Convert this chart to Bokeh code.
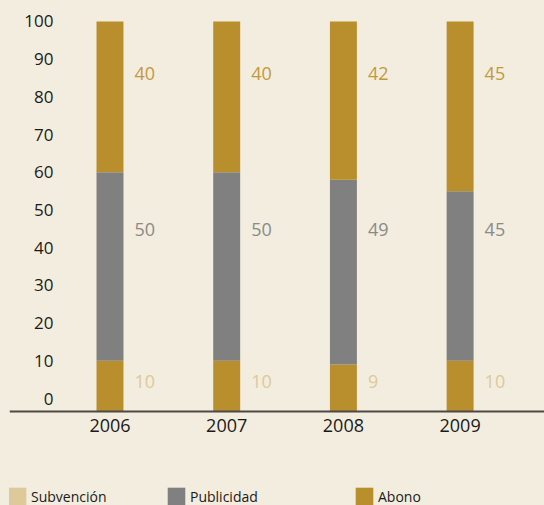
from bokeh.plotting import figure
from bokeh.models import Range1d, ColumnDataSource, Legend, LegendItem, FixedTicker
from bokeh.core.properties import value
from bokeh.embed import file_html
from bokeh.resources import INLINE

# ---- data ----
years = ["2006", "2007", "2008", "2009"]
subvencion = [10, 10, 9, 10]
publicidad = [50, 50, 49, 45]
abono = [40, 40, 42, 45]
y_ticks = [0, 10, 20, 30, 40, 50, 60, 70, 80, 90, 100]
series_names = ["Subvención", "Publicidad", "Abono"]

# ---- style ----
BG = "#f3eddf"
GOLD = "#b88f2c"
GRAY = "#808080"
TAN = "#ddc99a"
GOLD_TXT = "#c29a3b"
GRAY_TXT = "#8a8a8a"
DARK = "#1a1a1a"
AXIS = "#4d4944"
FONT = "Open Sans"

idx = list(range(len(years)))
baseline = -3.45             # axis line position (value units)
label_y = [4.5, 44.8, 86.2]  # fixed label heights per series

p = figure(width=544, height=505,
           x_range=Range1d(-0.861, 3.723), y_range=Range1d(-28.38, 105.57),
           output_backend="svg", toolbar_location=None,
           min_border_left=9, min_border_right=0, min_border_top=0, min_border_bottom=0,
           background_fill_color=BG, border_fill_color=BG, outline_line_color=None)
p.grid.visible = False

b0 = [baseline] * len(idx)
t0 = subvencion
t1 = [a + b for a, b in zip(subvencion, publicidad)]
t2 = [a + b for a, b in zip(t1, abono)]

src = ColumnDataSource(dict(x=idx, b0=b0, t0=t0, t1=t1, t2=t2))
W = 0.231
r_sub = p.vbar(x="x", bottom="b0", top="t0", width=W, source=src, fill_color=GOLD, line_color=None)
r_pub = p.vbar(x="x", bottom="t0", top="t1", width=W, source=src, fill_color=GRAY, line_color=None)
r_abo = p.vbar(x="x", bottom="t1", top="t2", width=W, source=src, fill_color=GOLD, line_color=None)
# legend swatch for Subvención (zero width, not visible in the plot)
r_leg_sub = p.vbar(x="x", bottom="b0", top="t0", width=0, source=src, fill_color=TAN, line_color=None)

# value labels
for vals, ly, col in [(subvencion, label_y[0], TAN), (publicidad, label_y[1], GRAY_TXT), (abono, label_y[2], GOLD_TXT)]:
    ls = ColumnDataSource(dict(x=idx, y=[ly] * len(idx), t=[str(v) for v in vals]))
    p.text(x="x", y="y", text="t", source=ls, x_offset=24.5, text_align="left",
           text_baseline="middle", text_color=col, text_font=value(FONT), text_font_size="18px")

# x axis
xa = p.xaxis[0]
xa.fixed_location = baseline
xa.ticker = FixedTicker(ticks=idx)
xa.major_label_overrides = {i: y for i, y in zip(idx, years)}
xa.axis_line_color = AXIS
xa.axis_line_width = 2
xa.major_tick_in = 0
xa.major_tick_out = 0
xa.minor_tick_line_color = None
xa.major_label_standoff = 7
xa.major_label_text_font = FONT
xa.major_label_text_font_size = "18px"
xa.major_label_text_color = DARK

# y axis
ya = p.yaxis[0]
ya.fixed_location = -0.441
ya.ticker = FixedTicker(ticks=y_ticks)
ya.axis_line_color = None
ya.major_tick_in = 0
ya.major_tick_out = 0
ya.minor_tick_line_color = None
ya.major_label_standoff = 5
ya.major_label_text_font = FONT
ya.major_label_text_font_size = "17px"
ya.major_label_text_color = DARK

# legend (separate items)
for name, rr, loc in [(series_names[0], r_leg_sub, (-3, -2)),
                      (series_names[1], r_pub, (156, -2)),
                      (series_names[2], r_abo, (344, -2))]:
    lg = Legend(items=[LegendItem(label=name, renderers=[rr])], location=loc,
                glyph_width=22, glyph_height=22, label_height=18, label_standoff=3,
                padding=0, margin=0, spacing=0, border_line_color=None,
                background_fill_alpha=0, label_text_font=FONT,
                label_text_font_size="14px", label_text_color=DARK)
    p.add_layout(lg)

html = file_html(p, INLINE)
html = html.replace("<body>", '<body style="background-color:%s;">' % BG)
open("out.html", "w").write(html)
